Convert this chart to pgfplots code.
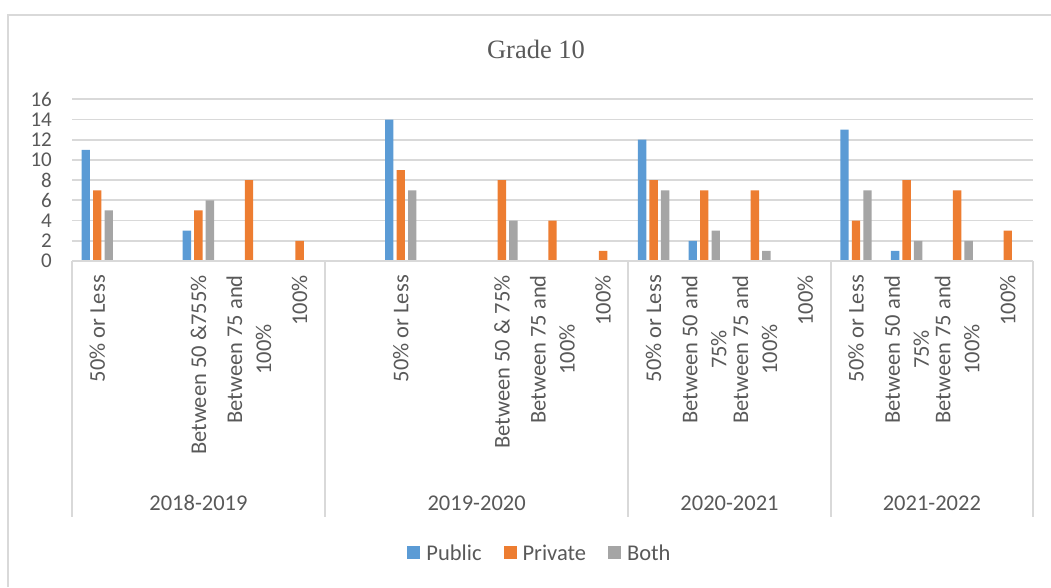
\documentclass[border=0pt]{standalone}
\usepackage{pgfplots}
\pgfplotsset{compat=1.18}
\usepackage{fontspec}
\setmainfont{Carlito}
\newfontfamily\titlefont{Liberation Serif}
\definecolor{cblue}{HTML}{5B9BD5}
\definecolor{corange}{HTML}{ED7D31}
\definecolor{cgray}{HTML}{A5A5A5}
\definecolor{gridc}{HTML}{D9D9D9}
\definecolor{txtc}{HTML}{595959}
\begin{document}
\begin{tikzpicture}
\useasboundingbox (0,0) rectangle (1051pt,587pt);
\draw[gridc, line width=1.5pt] (8pt,0pt) -- (8pt,572pt) -- (1051pt,572pt);
\node[anchor=base, font=\titlefont\fontsize{26.5}{30}\selectfont, text=txtc, inner sep=0pt] at (536pt,528pt) {Grade 10};
\begin{axis}[
  at={(72pt,326pt)}, anchor=south west, scale only axis,
  width=961pt, height=161.7pt,
  xmin=-0.5, xmax=18.5, ymin=0, ymax=16, enlargelimits=false,
  ytick={0,2,...,16},
  ymajorgrids, grid style={gridc, line width=1.8pt},
  axis line style={draw=none},
  major tick length=0pt,
  xtick={0,...,18},
  xticklabels={50\% or Less, {}, Between 50 \&755\%, {Between 75 and\\100\%}, 100\%, {}, 50\% or Less, {}, Between 50 \& 75\%, {Between 75 and\\100\%}, 100\%, 50\% or Less, {Between 50 and\\75\%}, {Between 75 and\\100\%}, 100\%, 50\% or Less, {Between 50 and\\75\%}, {Between 75 and\\100\%}, 100\%},
  xticklabel style={font=\fontsize{22.5}{29}\selectfont, text=txtc},
  yticklabel style={font=\fontsize{21}{24}\selectfont, text=txtc},
  /pgf/number format/assume math mode=true,
  yticklabel style={inner sep=0pt, xshift=-20pt, anchor=east},
  xticklabel style={inner sep=0pt, yshift=-14pt, rotate=90, anchor=east, align=center},
  clip=false,
  legend style={at={(0.487,-1.806)}, anchor=center, draw=none, fill=none,
    font=\fontsize{22.5}{29}\selectfont, text=txtc,
    /tikz/every odd column/.append style={column sep=4pt},
    /tikz/every even column/.append style={column sep=20pt}},
  legend columns=3,
  legend image code/.code={\fill[#1] (0pt,-6pt) rectangle (13pt,7pt);},
]
\addplot[ybar, bar width=8.4pt, bar shift=-11.5pt, fill=cblue, draw=none]
  coordinates {(0,11) (2,3) (6,14) (11,12) (12,2) (15,13) (16,1)};
\addplot[ybar, bar width=8.4pt, bar shift=0pt, fill=corange, draw=none]
  coordinates {(0,7) (2,5) (3,8) (4,2) (6,9) (8,8) (9,4) (10,1) (11,8) (12,7) (13,7) (15,4) (16,8) (17,7) (18,3)};
\addplot[ybar, bar width=8.4pt, bar shift=11.5pt, fill=cgray, draw=none]
  coordinates {(0,5) (2,6) (6,7) (8,4) (11,7) (12,3) (13,1) (15,7) (16,2) (17,2)};
\legend{Public, Private, Both}
\draw[gridc, line width=1.8pt] (axis cs:-0.5,0) -- (axis cs:18.5,0);
\draw[gridc, line width=1.8pt] (axis cs:-0.5,0) -- (axis cs:-0.5,-25.3);
\draw[gridc, line width=1.8pt] (axis cs:4.5,0) -- (axis cs:4.5,-25.3);
\draw[gridc, line width=1.8pt] (axis cs:10.5,0) -- (axis cs:10.5,-25.3);
\draw[gridc, line width=1.8pt] (axis cs:14.5,0) -- (axis cs:14.5,-25.3);
\draw[gridc, line width=1.8pt] (axis cs:18.5,0) -- (axis cs:18.5,-25.3);
\node[anchor=base, font=\fontsize{22.5}{29}\selectfont, text=txtc, inner sep=0pt] at (axis cs:2,-24.65) {2018-2019};
\node[anchor=base, font=\fontsize{22.5}{29}\selectfont, text=txtc, inner sep=0pt] at (axis cs:7.5,-24.65) {2019-2020};
\node[anchor=base, font=\fontsize{22.5}{29}\selectfont, text=txtc, inner sep=0pt] at (axis cs:12.5,-24.65) {2020-2021};
\node[anchor=base, font=\fontsize{22.5}{29}\selectfont, text=txtc, inner sep=0pt] at (axis cs:16.5,-24.65) {2021-2022};
\end{axis}
\end{tikzpicture}
\end{document}
